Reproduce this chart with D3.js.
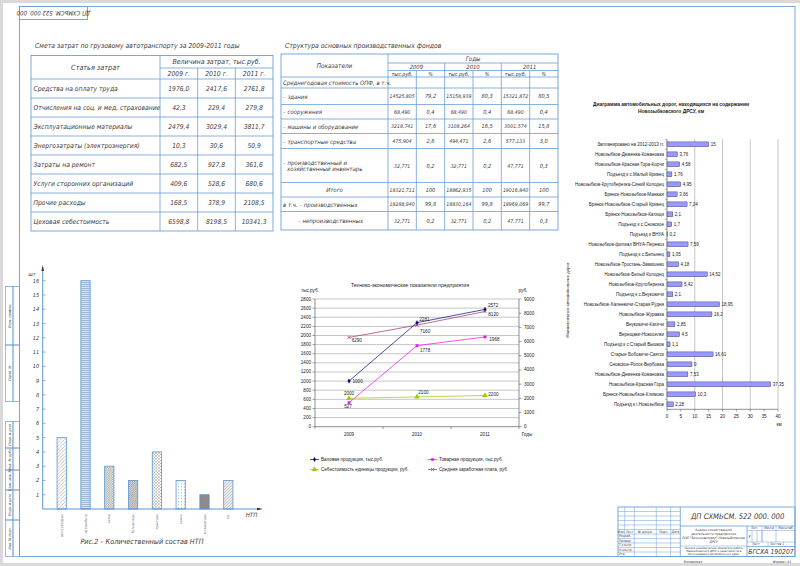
<!DOCTYPE html>
<html>
<head>
<meta charset="utf-8">
<script src="https://cdn.jsdelivr.net/npm/d3@7"></script>
<style>
  body { margin: 0; background: #d9d9d9; }
  svg { display: block; }
  .gost { font-family: "Liberation Sans Narrow", "DejaVu Sans Condensed", sans-serif; font-style: italic; fill: #3a3a3a; }
  .xl { font-family: "Liberation Sans", Arial, sans-serif; fill: #1a1a1a; }
</style>
</head>
<body>
<svg id="sheet" width="800" height="566"></svg>
<script>
// ---- table 1: cost estimate
const costItems = [
    "Средства на оплату труда",
    "Отчисления на соц. и мед. страхование",
    "Эксплуатационные материалы",
    "Энергозатраты (электроэнергия)",
    "Затраты на ремонт",
    "Услуги сторонних организаций",
    "Прочие расходы",
    "Цеховая себестоимость"
];
const costYears = ["2009 г.", "2010 г.", "2011 г."];
const cost2009 = [1976.0, 42.3, 2479.4, 10.3, 682.5, 409.6, 168.5, 6598.8];
const cost2010 = [2417.6, 229.4, 3029.4, 30.6, 927.8, 528.6, 378.9, 8198.5];
const cost2011 = [2761.8, 279.8, 3811.7, 50.9, 361.6, 680.6, 2108.5, 10341.3];

// ---- table 2: fixed assets
const fundItems = [
    "Среднегодовая стоимость ОПФ, в т.ч.",
    "– здания",
    "– сооружения",
    "– машины и оборудование",
    "– транспортные средства",
    "– производственный и|хозяйственный инвентарь",
    "Итого",
    "в т.ч. – производственных",
    "– непроизводственных"
];
const fundYears = ["2009", "2010", "2011"];
const fund2009 = ["", "14525,805", "68,490", "3218,741", "475,904", "32,771", "18321,711", "18288,940", "32,771"];
const pct2009 = ["", "79,2", "0,4", "17,6", "2,6", "0,2", "100", "99,8", "0,2"];
const fund2010 = ["", "15158,939", "68,490", "3108,264", "494,471", "32,771", "18862,935", "18830,164", "32,771"];
const pct2010 = ["", "80,3", "0,4", "16,5", "2,6", "0,2", "100", "99,8", "0,2"];
const fund2011 = ["", "15321,872", "68,490", "3001,574", "577,133", "47,771", "19016,840", "18969,069", "47,771"];
const pct2011 = ["", "80,5", "0,4", "15,8", "3,0", "0,3", "100", "99,7", "0,3"];

// ---- fig.2: machines
const ntpTypes = ["автогрейдеры", "автомобили", "катки", "бульдозеры", "тракторы", "краны", "экскаваторы", "пр."];
const ntpCount = [5, 16, 3, 2, 4, 2, 1, 2];
const ntpTicks = [1, 2, 3, 4, 5, 6, 7, 8, 9, 10, 11, 12, 13, 14, 15, 16];

// ---- line chart
const years = ["2009", "2010", "2011"];
const grossOutput = [1000, 2281, 2572];
const marketOutput = [527, 1778, 1968];
const unitCost = [2000, 2100, 2200];
const avgSalary = [6290, 7160, 8120];
const leftTicks = [0, 200, 400, 600, 800, 1000, 1200, 1400, 1600, 1800, 2000, 2200, 2400, 2600, 2800];
const rightTicks = [0, 1000, 2000, 3000, 4000, 5000, 6000, 7000, 8000, 9000];

// ---- roads chart (one name appears twice, so rows are keyed by index)
const roadNames = [
    "Запланировано на 2012-2013 гг.",
    "Новозыбков-Деменка-Кожановка",
    "Новозыбков-Красная Гора-Корчи",
    "Подъезд к с.Малый Кривец",
    "Новозыбков-Крутоберезка-Синий Колодец",
    "Брянск-Новозыбков-Манюки",
    "Брянск-Новозыбков-Старый Кривец",
    "Брянск-Новозыбков-Катищи",
    "Подъезд к с.Сновское",
    "Подъезд к ВНУА",
    "Новозыбков-филиал ВНУА-Перевоз",
    "Подъезд к с.Белынец",
    "Новозыбков-Тростань-Замишево",
    "Новозыбков-Белый Колодец",
    "Новозыбков-Крутоберезка",
    "Подъезд к с.Внуковичи",
    "Новозыбков-Халеевичи-Старая Рудня",
    "Новозыбков-Журавка",
    "Внуковичи-Катичи",
    "Верещаки-Новоселки",
    "Подъезд к с.Старый Вышков",
    "Старые Бобовичи-Святск",
    "Сновское-Ропск-Вербовка",
    "Новозыбков-Деменка-Кожановка",
    "Новозыбков-Красная Гора",
    "Брянск-Новозыбков-Климово",
    "Подъезд к г.Новозыбков"
];
const roadKm = [15, 3.76, 4.58, 1.76, 4.95, 3.66, 7.24, 2.1, 1.7, 0.2, 7.59, 1.05, 4.18, 14.52,
    5.42, 2.1, 18.95, 16.2, 2.85, 4.5, 1.1, 16.61, 9, 7.53, 37.35, 10.3, 2.28];
const kmTicks = [0, 5, 10, 15, 20, 25, 30, 35, 40];


const svg = d3.select("#sheet");
const BLUE = "#6a9fd6";
const comma = (v) => String(v).replace(".", ",");
const fmt1 = (v) => d3.format(".1f")(v).replace(".", ",");

function line(g, x1, y1, x2, y2, color, w) {
    return g.append("line")
        .attr("x1", x1).attr("y1", y1).attr("x2", x2).attr("y2", y2)
        .attr("stroke", color || BLUE)
        .attr("stroke-width", w || 0.8);
}
function label(g, x, y, str, size, anchor) {
    return g.append("text")
        .attr("x", x).attr("y", y)
        .attr("font-size", size)
        .attr("text-anchor", anchor || "start")
        .attr("dominant-baseline", "central")
        .text(str);
}

// page + drawing frame
svg.append("rect").attr("x", 3).attr("y", 3).attr("width", 797).attr("height", 560).attr("fill", "#fff");
const frame = svg.append("g").attr("fill", "none").attr("stroke", BLUE).attr("stroke-width", 0.9);
frame.append("rect").attr("x", 19.5).attr("y", 6.5).attr("width", 775.5).attr("height", 550);
frame.append("rect").attr("x", 19.5).attr("y", 6.5).attr("width", 68).attr("height", 13);
svg.append("text").attr("class", "gost")
    .attr("transform", "translate(53.5,13) rotate(180)")
    .attr("text-anchor", "middle").attr("dominant-baseline", "central")
    .attr("font-size", 6)
    .text("ДП СХМЬСМ. 522 000. 000");

// left strip
const strip = svg.append("g").attr("class", "gost");
const stripCells = [
    [286.5, 345, "Перв. примен."], [345, 401.5, "Справ. №"],
    [421.5, 448, "Подп. и дата"], [448, 470, "Инв. № дубл."], [470, 490, "Взам. инв. №"],
    [490, 520, "Подп. и дата"], [520, 556.5, "Инв. № подл."]
];
stripCells.forEach(([y0, y1, t]) => {
    strip.append("rect").attr("x", 5.5).attr("y", y0).attr("width", 7.5).attr("height", y1 - y0)
        .attr("fill", "none").attr("stroke", BLUE).attr("stroke-width", 0.7);
    strip.append("rect").attr("x", 13).attr("y", y0).attr("width", 6.5).attr("height", y1 - y0)
        .attr("fill", "none").attr("stroke", BLUE).attr("stroke-width", 0.7);
    strip.append("text")
        .attr("transform", `translate(9.5,${(y0 + y1) / 2}) rotate(-90)`)
        .attr("text-anchor", "middle").attr("dominant-baseline", "central")
        .attr("font-size", 3.6).text(t);
});

// ---------- table 1
const t1 = svg.append("g").attr("class", "gost");
label(t1, 35, 45.5, "Смета затрат по грузовому автотранспорту за 2009-2011 годы", 6.8);
const t1Left = 31, t1Split = 160, t1Right = 273;
const t1Top = 55.5, t1Mid = 68, t1Head = 79, t1Bot = 231;
const t1Row = d3.scaleBand().domain(d3.range(costItems.length)).range([t1Head, t1Bot]);
const t1Col = d3.scaleBand().domain(d3.range(costYears.length)).range([t1Split, t1Right]);

t1.append("rect").attr("x", t1Left).attr("y", t1Top).attr("width", t1Right - t1Left)
    .attr("height", t1Bot - t1Top).attr("fill", "none").attr("stroke", BLUE).attr("stroke-width", 0.9);
line(t1, t1Split, t1Top, t1Split, t1Bot);
line(t1, t1Split, t1Mid, t1Right, t1Mid);
line(t1, t1Left, t1Head, t1Right, t1Head);
costYears.forEach((y, i) => {
    if (i > 0) line(t1, t1Col(i), t1Mid, t1Col(i), t1Bot);
    label(t1, t1Col(i) + t1Col.bandwidth() / 2, (t1Mid + t1Head) / 2, y, 6.8, "middle");
});
label(t1, (t1Left + t1Split) / 2, (t1Top + t1Head) / 2, "Статья затрат", 7.2, "middle");
label(t1, (t1Split + t1Right) / 2, (t1Top + t1Mid) / 2, "Величина затрат, тыс.руб.", 7, "middle");

const costCols = [cost2009, cost2010, cost2011];
costItems.forEach((item, r) => {
    const yc = t1Row(r) + t1Row.bandwidth() / 2;
    if (r > 0) line(t1, t1Left, t1Row(r), t1Right, t1Row(r));
    label(t1, t1Left + 2.5, yc, item, 6.7);
    costCols.forEach((col, c) => {
        label(t1, t1Col(c) + t1Col.bandwidth() / 2, yc, fmt1(col[r]), 6.7, "middle");
    });
});

// ---------- table 2
const t2 = svg.append("g").attr("class", "gost");
label(t2, 285, 45.5, "Структура основных производственных фондов", 6.8);
const t2Left = 281, t2Split = 388, t2Right = 558;
const t2Top = 54, t2Years = 63, t2Units = 70.5, t2Head = 77;
const t2Edges = [77, 88, 104.5, 119, 133.5, 148.5, 182.5, 197, 211.5, 230];
const t2Year = d3.scaleBand().domain(fundYears).range([t2Split, t2Right]);

t2.append("rect").attr("x", t2Left).attr("y", t2Top).attr("width", t2Right - t2Left)
    .attr("height", t2Edges[t2Edges.length - 1] - t2Top).attr("fill", "none")
    .attr("stroke", BLUE).attr("stroke-width", 0.9);
line(t2, t2Split, t2Top, t2Split, t2Edges[t2Edges.length - 1]);
line(t2, t2Split, t2Years, t2Right, t2Years);
line(t2, t2Split, t2Units, t2Right, t2Units);
label(t2, (t2Left + t2Split) / 2, (t2Top + t2Head) / 2, "Показатели", 6.4, "middle");
label(t2, (t2Split + t2Right) / 2, (t2Top + t2Years) / 2, "Годы", 6.2, "middle");

const fundCols = [[fund2009, pct2009], [fund2010, pct2010], [fund2011, pct2011]];
fundYears.forEach((y, i) => {
    const x0 = t2Year(y), bw = t2Year.bandwidth(), xm = x0 + bw / 2;
    if (i > 0) line(t2, x0, t2Years, x0, t2Edges[t2Edges.length - 1]);
    line(t2, xm, t2Units, xm, t2Edges[t2Edges.length - 1]);
    label(t2, x0 + bw / 2, (t2Years + t2Units) / 2, y, 5.8, "middle");
    label(t2, x0 + bw * 0.25, (t2Units + t2Head) / 2, "тыс.руб.", 5.4, "middle");
    label(t2, x0 + bw * 0.75, (t2Units + t2Head) / 2, "%", 5.4, "middle");
});
fundItems.forEach((item, r) => {
    const y0 = t2Edges[r], y1 = t2Edges[r + 1], yc = (y0 + y1) / 2;
    line(t2, t2Left, y0, t2Right, y0);
    const parts = item.split("|");
    let x = t2Left + 2, anchor = "start";
    if (item === "Итого") { x = (t2Left + t2Split) / 2; anchor = "middle"; }
    if (item === "– непроизводственных") { x = t2Left + 17; }
    parts.forEach((p, k) => {
        label(t2, x + (k > 0 ? 4 : 0), yc + (k - (parts.length - 1) / 2) * 6, p, 6, anchor);
    });
    fundCols.forEach(([vals, pcts], c) => {
        const x0 = t2Year(fundYears[c]), bw = t2Year.bandwidth();
        label(t2, x0 + bw * 0.25, yc, vals[r], 5.2, "middle");
        label(t2, x0 + bw * 0.75, yc, pcts[r], 5.6, "middle");
    });
});

// ---------- fig.2 bar chart with hatches
const defs = svg.append("defs");
function pat(id, w, h, bg) {
    const p = defs.append("pattern").attr("id", id)
        .attr("patternUnits", "userSpaceOnUse").attr("width", w).attr("height", h);
    p.append("rect").attr("width", w).attr("height", h).attr("fill", bg || "#fff");
    return p;
}
let p;
p = pat("h0", 3.5, 3.5);
p.append("path").attr("d", "M0,3.5L3.5,0M-1,1L1,-1M2.5,4.5L4.5,2.5").attr("stroke", "#8a8a8a").attr("stroke-width", 0.5);
p = pat("h1", 3, 2, "#e2e2e2");
p.append("path").attr("d", "M0,0.5H3").attr("stroke", "#6b9bd0").attr("stroke-width", 0.6);
p = pat("h2", 2.4, 2.4);
p.append("rect").attr("width", 1.2).attr("height", 1.2).attr("fill", "#9a9a9a");
p.append("rect").attr("x", 1.2).attr("y", 1.2).attr("width", 1.2).attr("height", 1.2).attr("fill", "#9a9a9a");
p = pat("h3", 2.2, 2.2, "#d8d8d8");
p.append("path").attr("d", "M0,2.2L2.2,0M-1,1L1,-1M1.2,3.2L3.2,1.2").attr("stroke", "#666").attr("stroke-width", 0.5);
p = pat("h4", 3, 3);
p.append("path").attr("d", "M0,3L3,0M0,0L3,3").attr("stroke", "#a0a0a0").attr("stroke-width", 0.5);
p = pat("h5", 3, 3);
p.append("path").attr("d", "M1.5,0V1.5").attr("stroke", "#6b9bd0").attr("stroke-width", 0.5);
p = pat("h6", 2, 2, "#b8b8b8");
p.append("path").attr("d", "M0,2L2,0M0,0L2,2").attr("stroke", "#555").attr("stroke-width", 0.45);
p = pat("h7", 3, 3, "#eeeeee");
p.append("path").attr("d", "M0,3L3,0M-1,1L1,-1M2,4L4,2").attr("stroke", "#a8a8a8").attr("stroke-width", 0.6);
const ntpFill = ["h0", "h1", "h2", "h3", "h4", "h5", "h6", "h7"];

const ntp = svg.append("g").attr("class", "gost");
const ntpX = d3.scaleBand().domain(ntpTypes).range([49.8, 240.2]).paddingInner(0.61).paddingOuter(0.305);
const ntpY = d3.scaleLinear().domain([0, 16]).range([509, 280.7]);
const axX = 42.7;

ntp.selectAll("rect.bar")
    .data(ntpTypes)
    .enter()
    .append("rect")
    .attr("class", "bar")
    .attr("x", (d) => ntpX(d))
    .attr("y", (d, i) => ntpY(ntpCount[i]))
    .attr("width", ntpX.bandwidth())
    .attr("height", (d, i) => ntpY(0) - ntpY(ntpCount[i]))
    .attr("fill", (d, i) => `url(#${ntpFill[i]})`)
    .attr("stroke", "#5b95d2")
    .attr("stroke-width", 0.8);

line(ntp, axX, ntpY(0), axX, 268, "#5b95d2", 1);
line(ntp, axX, ntpY(0), 260, ntpY(0), "#5b95d2", 1);
ntp.append("path").attr("d", `M${axX},265L${axX - 1.3},271L${axX + 1.3},271Z`).attr("fill", "#333");
ntp.append("path").attr("d", `M263,${ntpY(0)}L257,${ntpY(0) - 1.3}L257,${ntpY(0) + 1.3}Z`).attr("fill", "#333");
ntpTicks.forEach((t) => {
    line(ntp, axX, ntpY(t), axX + 3, ntpY(t), "#5b95d2", 0.7);
    label(ntp, axX - 3.5, ntpY(t), t, 5.6, "end");
});
label(ntp, 32, 273.5, "шт", 5.6, "middle");
label(ntp, 251.5, 514.5, "НТП", 6, "middle");
ntpTypes.forEach((t) => {
    ntp.append("text")
        .attr("transform", `translate(${ntpX(t) + ntpX.bandwidth() / 2},514) rotate(-90)`)
        .attr("text-anchor", "end").attr("dominant-baseline", "central")
        .attr("font-size", 3.4).attr("fill", "#777").text(t);
});
label(ntp, 142, 541, "Рис.2 – Количественный состав НТП", 7.2, "middle");

// ---------- line chart
const lc = svg.append("g").attr("class", "xl");
const lcX = d3.scalePoint().domain(years).range([315, 519]).padding(0.5);
const lcL = d3.scaleLinear().domain([0, 2800]).range([426.7, 299]);
const lcR = d3.scaleLinear().domain([0, 9000]).range([426.7, 299]);

label(lc, 410, 284.5, "Технико-экономические показатели предприятия", 5.2, "middle");
label(lc, 310, 290.5, "тыс.руб.", 4.6, "middle");
label(lc, 523, 290.5, "руб.", 4.6, "middle");

leftTicks.forEach((t) => {
    if (t > 0) line(lc, 315, lcL(t), 519, lcL(t), "#8c8c8c", 0.5);
    line(lc, 312.5, lcL(t), 315, lcL(t), "#444", 0.5);
    label(lc, 311, lcL(t), t, 4.6, "end");
});
rightTicks.forEach((t) => {
    line(lc, 519, lcR(t), 521.5, lcR(t), "#444", 0.5);
    label(lc, 524, lcR(t), t, 4.6, "start");
});
line(lc, 315, 299, 315, 426.7, "#444", 0.6);
line(lc, 519, 299, 519, 426.7, "#444", 0.6);
line(lc, 315, 426.7, 519, 426.7, "#444", 0.6);
[315, 383, 451, 519].forEach((x) => line(lc, x, 426.7, x, 429, "#444", 0.5));
years.forEach((y) => label(lc, lcX(y), 434.5, y, 4.6, "middle"));
label(lc, 527, 434.5, "Годы", 4.6, "middle");

const lineSeries = [
    { name: "Валовая продукция, тыс.руб.", values: grossOutput, y: lcL, color: "#000080", marker: "diamond",
      lbl: [[3.5, 2.4, "start"], [2.3, -2, "start"], [3, -2.5, "start"]] },
    { name: "Товарная продукция, тыс.руб.", values: marketOutput, y: lcL, color: "#ff00ff", marker: "square",
      lbl: [[-1, 5.5, "middle"], [3, 6, "start"], [4.3, 4, "start"]] },
    { name: "Себестоимость единицы продукции, руб.", values: unitCost, y: lcR, color: "#99cc00", marker: "triangle",
      lbl: [[0, -3.5, "middle"], [1.3, -3, "start"], [3.3, 0.6, "start"]] },
    { name: "Средняя заработная плата, руб.", values: avgSalary, y: lcR, color: "#993366", marker: "x",
      lbl: [[2.7, 5, "start"], [3, 7.4, "start"], [3.3, 4.3, "start"]] }
];
function marker(g, kind, x, y, color) {
    if (kind === "x") {
        return g.append("path").attr("d", `M${x - 1.6},${y - 1.6}L${x + 1.6},${y + 1.6}M${x - 1.6},${y + 1.6}L${x + 1.6},${y - 1.6}`)
            .attr("stroke", color).attr("stroke-width", 0.7).attr("fill", "none");
    }
    const type = kind === "diamond" ? d3.symbolDiamond : kind === "square" ? d3.symbolSquare : d3.symbolTriangle;
    return g.append("path").attr("d", d3.symbol().type(type).size(kind === "triangle" ? 11 : 6)())
        .attr("transform", `translate(${x},${y})`)
        .attr("fill", color).attr("stroke", color).attr("stroke-width", 0.3);
}
lineSeries.forEach((s) => {
    const path = d3.line().x((d, i) => lcX(years[i])).y((d) => s.y(d));
    lc.append("path").attr("d", path(s.values)).attr("fill", "none")
        .attr("stroke", s.color).attr("stroke-width", 0.7);
    s.values.forEach((v, i) => {
        const x = lcX(years[i]), y = s.y(v);
        marker(lc, s.marker, x, y, s.color);
        lc.append("text").attr("x", x + s.lbl[i][0]).attr("y", y + s.lbl[i][1])
            .attr("font-size", 4.6).attr("text-anchor", s.lbl[i][2]).text(v);
    });
});
// legend
const legendPos = [[310, 461], [428, 461], [310, 471], [428, 471]];
lineSeries.forEach((s, j) => {
    const [lx, ly] = legendPos[j];
    line(lc, lx, ly - 1.5, lx + 9, ly - 1.5, s.color, 0.7);
    marker(lc, s.marker, lx + 4.5, ly - 1.5, s.color);
    lc.append("text").attr("x", lx + 11).attr("y", ly).attr("font-size", 4.6).text(s.name);
});

// ---------- roads chart
const rd = svg.append("g").attr("class", "xl");
const rdIdx = d3.range(roadNames.length);
const rdY = d3.scaleBand().domain(rdIdx).range([139.3, 409.3]).paddingInner(0.52).paddingOuter(0.26);
const rdX = d3.scaleLinear().domain([0, 40]).range([667, 778]);

rd.append("text").attr("x", 671).attr("y", 106).attr("font-size", 4.9).attr("font-weight", "bold")
    .attr("text-anchor", "middle").text("Диаграмма автомобильных дорог, находящихся на содержании");
rd.append("text").attr("x", 671).attr("y", 112.5).attr("font-size", 4.9).attr("font-weight", "bold")
    .attr("text-anchor", "middle").text("Новозыбковского ДРСУ, км");

[10, 20, 30, 40].forEach((t) => line(rd, rdX(t), 139.3, rdX(t), 409.3, "#8c8c8c", 0.5));
line(rd, rdX(0), 139.3, rdX(0), 409.3, "#444", 0.6);
line(rd, rdX(0), 409.3, rdX(40), 409.3, "#444", 0.6);
kmTicks.forEach((t) => {
    line(rd, rdX(t), 409.3, rdX(t), 411.5, "#444", 0.5);
    label(rd, rdX(t), 416, t, 4.6, "middle");
});
rdIdx.forEach((i) => {
    const yb = rdY(i) - rdY.step() * rdY.paddingInner() / 2;
    line(rd, rdX(0) - 2, yb, rdX(0), yb, "#444", 0.4);
});
label(rd, 779, 424, "км", 4.6, "middle");
rd.append("text")
    .attr("transform", "translate(567.5,300) rotate(-90)")
    .attr("text-anchor", "middle").attr("dominant-baseline", "central")
    .attr("font-size", 4.3).text("Наименование автомобильных дорог");

rd.selectAll("rect.road")
    .data(rdIdx)
    .enter()
    .append("rect")
    .attr("class", "road")
    .attr("x", rdX(0))
    .attr("y", (i) => rdY(i))
    .attr("width", (i) => rdX(roadKm[i]) - rdX(0))
    .attr("height", rdY.bandwidth())
    .attr("fill", "#9999ff")
    .attr("stroke", "#262660")
    .attr("stroke-width", 0.4);

rdIdx.forEach((i) => {
    const yc = rdY(i) + rdY.bandwidth() / 2;
    label(rd, rdX(0) - 3, yc, roadNames[i], 4.5, "end");
    label(rd, rdX(roadKm[i]) + 2, yc, comma(roadKm[i]), 4.5, "start");
});

// ---------- title block
const tb = svg.append("g").attr("class", "gost");
const tbL = 618, tbR = 795, tbT = 507, tbB = 556.5, tbM = 680.3;
tb.append("rect").attr("x", tbL).attr("y", tbT).attr("width", tbR - tbL).attr("height", tbB - tbT)
    .attr("fill", "none").attr("stroke", BLUE).attr("stroke-width", 0.9);
const tbRow = d3.scaleLinear().domain([0, 11]).range([tbT, tbB]);
d3.range(1, 11).forEach((k) => line(tb, tbL, tbRow(k), tbM, tbRow(k), BLUE, 0.5));
[624.7, 634.3, 656.3, 670.7].forEach((x) => line(tb, x, tbT, x, tbRow(6), BLUE, 0.5));
[634.3, 656.3, 670.7].forEach((x) => line(tb, x, tbRow(6), x, tbB, BLUE, 0.5));
line(tb, tbM, tbT, tbM, tbB, BLUE, 0.8);
const headCells = [["Изм.", 621.3], ["Лист", 629.5], ["№ докум.", 645.3], ["Подп.", 663.5], ["Дата", 675.5]];
headCells.forEach(([t, x]) => label(tb, x, (tbRow(5) + tbRow(6)) / 2, t, 3.4, "middle"));
["Разраб.", "Провер.", "Т.контр.", "Н.контр.", "Утв."].forEach((t, k) =>
    label(tb, tbL + 1, (tbRow(6 + k) + tbRow(7 + k)) / 2, t, 3.4));
label(tb, (tbM + tbR) / 2, 516.5, "ДП СХМЬСМ. 522 000. 000", 7.6, "middle");
line(tb, tbM, 526, tbR, 526, BLUE, 0.8);
line(tb, 747, 526, 747, tbB, BLUE, 0.8);
line(tb, tbM, 546, 747, 546, BLUE, 0.5);
["Анализ хозяйственной", "деятельности предприятия", "ОАО \"Брянскавтодор\" Новозыбковское", "ДРСУ"]
    .forEach((t, k) => label(tb, (tbM + 747) / 2, 530 + k * 4, t, 3.4, "middle"));
["Технико-экономические показатели работы", "Новозыбковского ДРСУ и характеристика", "обслуживаемых автомобильных дорог"]
    .forEach((t, k) => label(tb, (tbM + 747) / 2, 548.3 + k * 3, t, 2.8, "middle"));
line(tb, 747, 530.5, tbR, 530.5, BLUE, 0.5);
line(tb, 747, 542, tbR, 542, BLUE, 0.5);
line(tb, 747, 546.5, tbR, 546.5, BLUE, 0.8);
[752, 757, 762].forEach((x) => line(tb, x, 530.5, x, 542, BLUE, 0.5));
line(tb, 762, 526, 762, 542, BLUE, 0.5);
line(tb, 776, 526, 776, 542, BLUE, 0.5);
line(tb, 768, 542, 768, 546.5, BLUE, 0.5);
label(tb, 754.5, 528.3, "Лит.", 3.4, "middle");
label(tb, 769, 528.3, "Масса", 3.4, "middle");
label(tb, 785.5, 528.3, "Масштаб", 3.4, "middle");
label(tb, 749.5, 536, "У", 4, "middle");
label(tb, 752, 544.3, "Лист", 3.4, "start");
label(tb, 770, 544.3, "Листов 1", 3.4, "start");
label(tb, 771, 551.8, "БГСХА 190207", 6.8, "middle");
label(tb, 693, 562, "Копировал", 3.6, "middle");
label(tb, 782, 562, "Формат А1", 3.6, "middle");
</script>
</body>
</html>
